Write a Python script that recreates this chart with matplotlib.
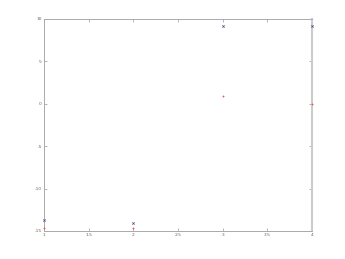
import matplotlib
matplotlib.use("Agg")
import matplotlib.pyplot as plt

x = [1, 2, 3, 4]
series_a = [-13.7, -14.0, 9.2, 9.2]
series_b = [-14.6, -14.6, 0.9, 0.0]
xticks = [1, 1.5, 2, 2.5, 3, 3.5, 4]
xticklabels = ["1", "1.5", "2", "2.5", "3", "3.5", "4"]
yticks = [-15, -10, -5, 0, 5, 10]
yticklabels = ["-15", "-10", "-5", "0", "5", "10"]

fig = plt.figure(figsize=(3.45, 2.59), dpi=100)
ax = fig.add_axes([44/345, 1-231/259, (312-44)/345, (231-19)/259])
ax.plot(x, series_a, linestyle="none", marker="x", markersize=1.6, markeredgewidth=0.6, color="#55558a", clip_on=False, zorder=4)
ax.plot(x, series_b, linestyle="none", marker="+", markersize=1.8, markeredgewidth=0.6, color="#ff4d4d", clip_on=False, zorder=4)
ax.set_xlim(1, 4)
ax.set_ylim(-15, 10)
ax.set_xticks(xticks)
ax.set_xticklabels(xticklabels)
ax.set_yticks(yticks)
ax.set_yticklabels(yticklabels)
ax.tick_params(labelsize=3.2, colors="#999999", labelcolor="#666666", length=2, width=0.5, pad=1.5, direction="in", top=True, right=True)
for s in ax.spines.values():
    s.set_color("#aaaaaa")
    s.set_linewidth(0.7)
ax.spines["right"].set_linewidth(1.5)
ax.spines["right"].set_color("#cccccc")
fig.savefig("out.png", dpi=100)
